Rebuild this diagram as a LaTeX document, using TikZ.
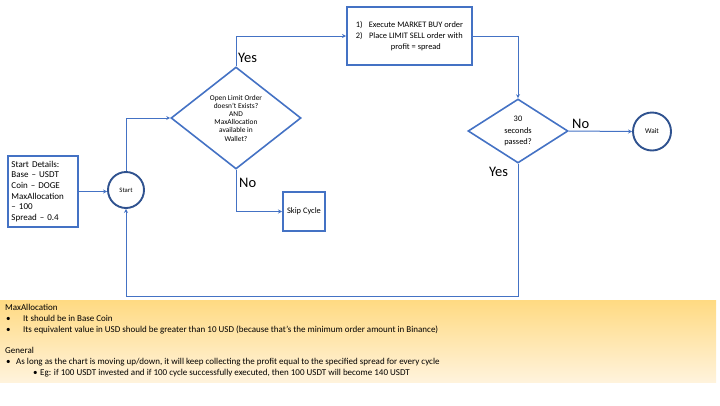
\documentclass[tikz,border=0pt]{standalone}
\usepackage{fontspec}
\setmainfont{Carlito}
\usetikzlibrary{shapes.geometric,arrows.meta}
\definecolor{lnblue}{HTML}{4472C4}
\definecolor{dkblue}{HTML}{2F528F}
\definecolor{bandtop}{HTML}{FFDA82}
\definecolor{bandbot}{HTML}{FFF3DC}
\tikzset{
  conn/.style={draw=lnblue, line width=1pt},
  arr/.style={conn, -{Stealth[length=4pt,width=4pt]}},
  boxnode/.style={draw=lnblue, line width=2pt, inner sep=0pt},
  circnode/.style={circle, draw=dkblue, line width=1.9pt, minimum size=36pt, inner sep=0pt, font=\fontsize{6.7}{8}\selectfont},
  dec/.style={diamond, draw=lnblue, line width=1.6pt, inner sep=0pt, align=center},
  yn/.style={anchor=west, inner sep=0pt, font=\fontsize{14.5}{16}\selectfont},
  note/.style={anchor=base west, inner sep=0pt, font=\fontsize{9}{11}\selectfont},
}
\begin{document}
\begin{tikzpicture}[x=1pt,y=-1pt]
\useasboundingbox (0,0) rectangle (720,405);
% band
\shade[top color=bandtop, bottom color=bandbot] (0,300) rectangle (716,382);
% nodes
\node[boxnode, minimum width=70pt, minimum height=71pt, align=left, anchor=north west,
      font=\fontsize{9}{10.7}\selectfont, text width=63pt] (details) at (7,155)
  {Start Details:\\Base -- USDT\\Coin -- DOGE\\MaxAllocation\\-- 100\\Spread -- 0.4};
\node[circnode] (start) at (126,190) {Start};
\node[dec, aspect=1.27, minimum width=130pt, minimum height=102pt, font=\fontsize{7.4}{8.2}\selectfont] (d1) at (236,118)
  {Open Limit Order\\doesn't Exists?\\AND\\MaxAllocation\\available in\\Wallet?};
\node[boxnode, minimum width=125pt, minimum height=58pt, font=\fontsize{8.4}{11}\selectfont] (act) at (409.5,36)
  {\raisebox{-2pt}{\begin{tabular}{@{}l@{\hspace{6pt}}c@{}}1) & Execute MARKET BUY order\\2) & Place LIMIT SELL order with\\ & profit = spread\end{tabular}}};
\node[boxnode, minimum width=42pt, minimum height=39pt, font=\fontsize{8.4}{10}\selectfont] (skip) at (304,211.5) {Skip Cycle};
\node[dec, aspect=1.56, minimum width=100pt, minimum height=64pt, font=\fontsize{8.4}{11.5}\selectfont] (d2) at (518,131)
  {30\\seconds\\passed?};
\node[circnode, minimum size=38pt, font=\fontsize{7.3}{8.5}\selectfont] (wait) at (652,131.5) {Wait};
\coordinate (loopy) at (0,296);
% connectors
\draw[arr] (details.east) -- (details.east -| start.west);
\draw[arr] (start.north) |- (d1.west);
\draw[arr] (d1.north) |- (act.west);
\draw[arr] (d1.south) |- (skip.west);
\draw[arr] (act.east) -| (d2.north);
\draw[arr] (d2.east) -- (wait.west);
\draw[arr] (d2.south) -- (d2.south |- loopy) -| (start.south);
% yes/no labels
\node[yn] (y1) at (238,58) {Yes};
\node[yn] (n1) at (239,183) {No};
\node[yn] (n2) at (572,124) {No};
\node[yn] (y2) at (489,171.5) {Yes};
% notes
\node[note] (t1) at (5,310) {MaxAllocation};
\node[note] (b1) at (6,321) {•};
\node[note] (t2) at (23,321) {It should be in Base Coin};
\node[note] (b2) at (6,332) {•};
\node[note] (t3) at (23,332) {Its equivalent value in USD should be greater than 10 USD (because that’s the minimum order amount in Binance)};
\node[note] (t4) at (5,353.5) {General};
\node[note] (b3) at (6,364) {•};
\node[note] (t5) at (16,364) {As long as the chart is moving up/down, it will keep collecting the profit equal to the specified spread for every cycle};
\node[note] (b4) at (33,375) {•};
\node[note] (t6) at (40,375) {Eg: if 100 USDT invested and if 100 cycle successfully executed, then 100 USDT will become 140 USDT};
\end{tikzpicture}
\end{document}
